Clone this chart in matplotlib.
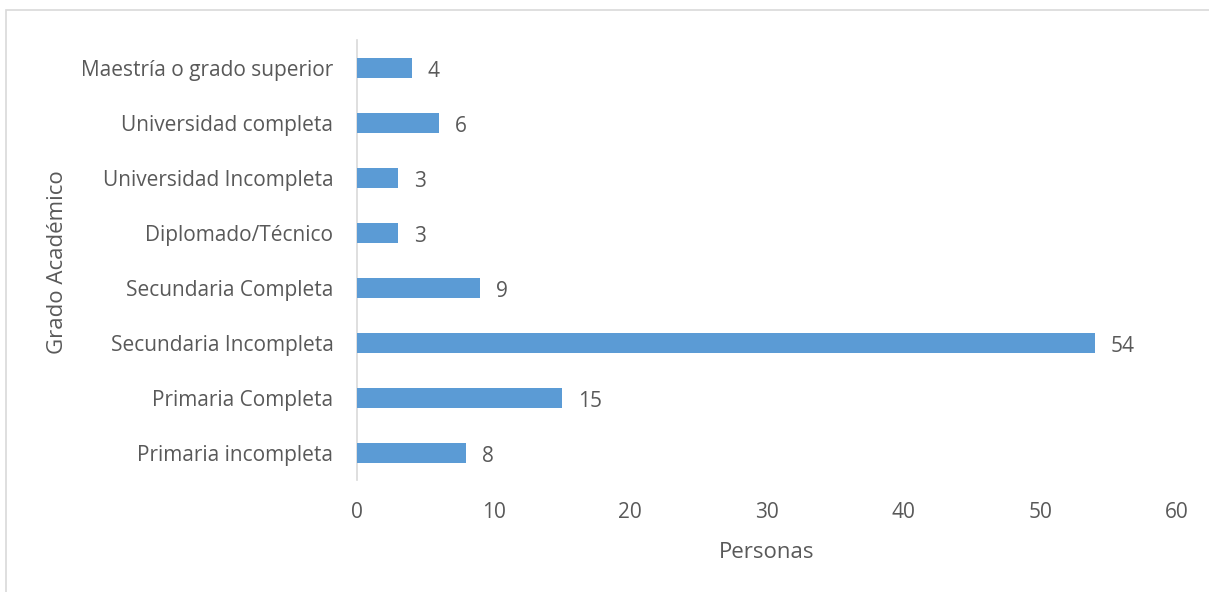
import matplotlib.pyplot as plt
import matplotlib.patches as mpatches

categories = [
    "Primaria incompleta",
    "Primaria Completa",
    "Secundaria Incompleta",
    "Secundaria Completa",
    "Diplomado/Técnico",
    "Universidad Incompleta",
    "Universidad completa",
    "Maestría o grado superior",
]
personas = [8, 15, 54, 9, 3, 3, 6, 4]
x_ticks = [0, 10, 20, 30, 40, 50, 60]

TEXT = "#595959"
BAR = "#5B9BD5"
GRID = "#D9D9D9"

plt.rcParams["font.family"] = ["Open Sans", "DejaVu Sans"]

fig = plt.figure(figsize=(12.09, 5.92), dpi=100)
ax = fig.add_axes([0.2953, 0.1884, 0.6782, 0.7432])

# chart frame
fig.patches.append(mpatches.Rectangle((6 / 1209, -0.01), 1.2, 1 - 10 / 592 + 0.01,
                                      transform=fig.transFigure, fill=False,
                                      edgecolor=GRID, linewidth=1.2))

y = range(len(categories))
ax.barh(y, personas, height=0.35, color=BAR, zorder=3)
for yi, v in zip(y, personas):
    ax.annotate(str(v), (v, yi), xytext=(11.5, -2.5), textcoords="offset points",
                ha="left", va="center", fontsize=15, color=TEXT)

ax.set_xlim(0, 60)
ax.set_ylim(-0.5, len(categories) - 0.5)
ax.set_xticks(x_ticks)
ax.set_yticks(list(y))
ax.set_yticklabels(categories)
ax.tick_params(axis="both", length=0, labelsize=15, labelcolor=TEXT)
ax.tick_params(axis="x", pad=15.5)
ax.tick_params(axis="y", pad=17)

for side in ["top", "right", "bottom"]:
    ax.spines[side].set_visible(False)
ax.spines["left"].set_color(GRID)
ax.spines["left"].set_linewidth(1.2)

fig.text(767 / 1209, 1 - 552 / 592, "Personas", ha="center", va="center",
         fontsize=16, color=TEXT)
fig.text(58 / 1209, 1 - 262 / 592, "Grado Académico", rotation=90,
         ha="center", va="center", fontsize=16, color=TEXT)

fig.savefig("out.png", dpi=100)
